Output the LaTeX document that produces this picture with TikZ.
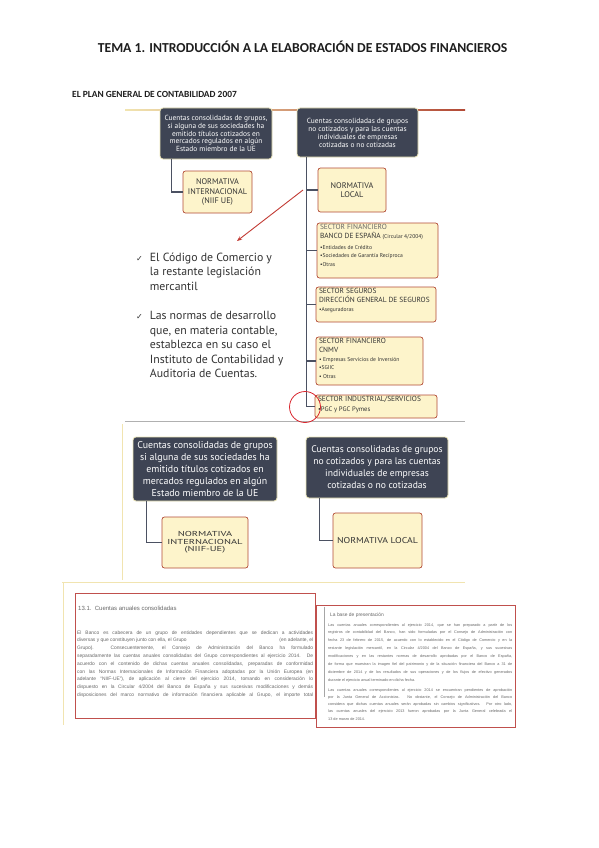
\documentclass[tikz,border=0pt]{standalone}
\usepackage{fontspec}
\usetikzlibrary{arrows.meta}
\setmainfont{Carlito}
\newfontfamily\gill{PT Sans}
\newfontfamily\dejavu{DejaVu Sans}
\newfontfamily\arial{Liberation Sans}
\definecolor{dkbox}{HTML}{3E4454}
\definecolor{dkglow}{HTML}{EDE6B8}
\definecolor{ylfill}{HTML}{FDF4CB}
\definecolor{ylborder}{HTML}{B34A36}
\definecolor{ytext}{HTML}{333333}
\definecolor{connc}{HTML}{4B5162}
\definecolor{arrowc}{HTML}{C23B34}
\definecolor{circc}{HTML}{D9262E}
\definecolor{titlec}{HTML}{1E1E1E}
\definecolor{bodyc}{HTML}{686868}
\definecolor{redbx}{HTML}{C0504D}
\definecolor{sepc}{HTML}{B0B0B0}
\definecolor{faintc}{HTML}{F1E4B0}
\newcommand\hdr{\gill\fontsize{7.4}{8.8}\selectfont}
\newcommand\itm{\gill\fontsize{5.6}{8.6}\selectfont}
\newcommand\JL[2]{\hbox to #1{#2}}
\begin{document}
\begin{tikzpicture}[x=1pt,y=-1pt,
  darkbox/.style={rounded corners=3pt, fill=dkbox, draw=dkglow, line width=0.8pt, text=white, align=center, inner sep=0pt},
  ybox/.style={rounded corners=2.5pt, fill=ylfill, draw=ylborder, line width=0.7pt, inner sep=0pt, align=center, text=ytext},
  sbox/.style={rounded corners=2.5pt, fill=ylfill, draw=ylborder, line width=0.7pt, inner xsep=3pt, inner ysep=1.5pt, text=ytext},
  conn/.style={draw=connc, line width=1.1pt},
  body/.style={inner sep=0pt, anchor=base west, text=bodyc}]
\useasboundingbox (0,0) rectangle (599,848);
\fill[white] (0,0) rectangle (599,848);

% titles
\node[font=\bfseries\fontsize{13.7}{16}\selectfont, text=titlec, inner sep=0pt] (title) at (302.5,47) {TEMA 1. INTRODUCCIÓN A LA ELABORACIÓN DE ESTADOS FINANCIEROS};
\node[font=\bfseries\fontsize{9.4}{11}\selectfont, text=titlec, inner sep=0pt, anchor=west] (sub) at (72,94) {EL PLAN GENERAL DE CONTABILIDAD 2007};

% frame lines
\shade[left color=faintc, right color=ylborder] (125,109.4) rectangle (465,110.6);
\draw[sepc, line width=0.7pt] (125,421) -- (465,421);
\draw[faintc, line width=0.7pt] (122,424) -- (122,580);
\draw[faintc, line width=0.7pt] (62,582) -- (465,582);
\draw[faintc, line width=0.7pt] (63,583) -- (63,725);

% upper diagram
\node[darkbox, minimum width=112, minimum height=51, font=\gill\fontsize{7.4}{7.6}\selectfont] (ul) at (216,133.5)
  {Cuentas consolidadas de grupos,\\si alguna de sus sociedades ha\\emitido títulos cotizados en\\mercados regulados en algún\\Estado miembro de la UE};
\node[darkbox, minimum width=121, minimum height=49, font=\gill\fontsize{7.4}{8}\selectfont] (ur) at (357.5,132.5)
  {Cuentas consolidadas de grupos\\no cotizados y para las cuentas\\individuales de empresas\\cotizadas o no cotizadas};
\node[ybox, minimum width=69, minimum height=42, font=\gill\fontsize{8.2}{9.3}\selectfont] (nint) at (217.5,192)
  {NORMATIVA\\INTERNACIONAL\\(NIIF UE)};
\node[ybox, minimum width=68, minimum height=44, font=\gill\fontsize{8.2}{9}\selectfont] (nloc) at (352,190)
  {NORMATIVA\\LOCAL};
\node[sbox] (sfin) at (377.5,250.5) {\parbox[c][52pt][t]{115pt}{%
  {\hdr\color{ytext!75}SECTOR FINANCIERO\par}
  {\hdr BANCO DE ESPAÑA {\itm(Circular 4/2004)}\par}\vspace{2pt}
  {\itm •Entidades de Crédito\par}
  {\itm •Sociedades de Garantía Recíproca\par}
  {\itm •Otras\par}}};
\node[sbox] (sseg) at (376,304.5) {\parbox[c][32pt][t]{114pt}{%
  {\hdr SECTOR SEGUROS\par}
  {\hdr DIRECCIÓN GENERAL DE SEGUROS\par}
  {\itm •Aseguradoras\par}}};
\node[sbox] (scnmv) at (369.5,361) {\parbox[c][45pt][t]{101pt}{%
  {\hdr SECTOR FINANCIERO\par}
  {\hdr CNMV\par}
  {\itm • Empresas Servicios de Inversión\par}
  {\itm •SGIIC\par}
  {\itm • Otras\par}}};
\node[sbox] (sind) at (376,406.5) {\parbox[c][20pt][t]{116pt}{%
  {\hdr SECTOR INDUSTRIAL/SERVICIOS\par}
  {\gill\fontsize{6.6}{9.6}\selectfont •PGC y PGC Pymes\par}}};

\draw[conn] ([xshift=12pt]ul.south west) |- (nint.west);
\draw[conn] ([xshift=10pt]ur.south west) |- (sind.west);
\foreach \n in {nloc,sfin,sseg,scnmv}{\draw[conn] ([xshift=10pt]ur.south west) |- (\n.west);}

\coordinate (aS) at (303,190);
\coordinate (aE) at (237,241);
\draw[arrowc, line width=0.9pt, -{Stealth[length=5pt,width=4pt]}] (aS) -- (aE);
\node[draw=circc, circle, minimum size=31pt, line width=0.8pt, inner sep=0pt] (ring) at (305,407) {};

\node[inner sep=0pt, anchor=base west, text=ytext] (bul) at (136,261) {%
  \fontsize{11.8}{14.6}\selectfont\gill
  \begin{tabular}[t]{@{}l@{\hspace{7pt}}l@{}}
  {\dejavu\fontsize{8}{8}\selectfont ✓} & El Código de Comercio y\\
  & la restante legislación\\
  & mercantil\\[14.6pt]
  {\dejavu\fontsize{8}{8}\selectfont ✓} & Las normas de desarrollo\\
  & que, en materia contable,\\
  & establezca en su caso el\\
  & Instituto de Contabilidad y\\
  & Auditoria de Cuentas.
  \end{tabular}};

% lower diagram
\node[darkbox, minimum width=144, minimum height=64, font=\gill\fontsize{9.9}{12.2}\selectfont] (ll) at (205,469)
  {Cuentas consolidadas de grupos\\si alguna de sus sociedades ha\\emitido títulos cotizados en\\mercados regulados en algún\\Estado miembro de la UE};
\node[darkbox, minimum width=142, minimum height=61, font=\gill\fontsize{9.6}{12}\selectfont] (lr) at (377,467.5)
  {Cuentas consolidadas de grupos\\no cotizados y para las cuentas\\individuales de empresas\\cotizadas o no cotizadas};
\node[ybox, minimum width=86, minimum height=51] (lnint) at (205,542.5)
  {\scalebox{1.45}[1]{\gill\fontsize{7.2}{7.6}\selectfont\begin{tabular}{@{}c@{}}NORMATIVA\\INTERNACIONAL\\(NIIF-UE)\end{tabular}}};
\node[ybox, minimum width=89, minimum height=55] (lnloc) at (377.5,540.5)
  {\scalebox{1.15}[1]{\gill\fontsize{8.5}{9}\selectfont NORMATIVA LOCAL}};
\draw[conn] ([xshift=14pt]ll.south west) |- (lnint.west);
\draw[conn] ([xshift=14pt]lr.south west) |- (lnloc.west);

% bottom text blocks
\node[draw=redbx, line width=0.9pt, fill=white, minimum width=240pt, minimum height=125pt, inner sep=0pt] (lblock) at (195,655.5) {};
\node[body, font=\arial\fontsize{6}{7}\selectfont] (lhead) at (78,610) {13.1.\ \ Cuentas anuales consolidadas};
\node[body] (lpara) at (77,634) {\vtop{\arial\fontsize{4.9}{7.8}\selectfont\lineskiplimit=-20pt
  \JL{236pt}{El Banco es cabecera de un grupo de entidades dependientes que se dedican a actividades}
  \JL{236pt}{diversas y que constituyen junto con ella, el Grupo\hfill(en adelante, el}
  \JL{236pt}{Grupo). Consecuentemente, el Consejo de Administración del Banco ha formulado}
  \JL{236pt}{separadamente las cuentas anuales consolidadas del Grupo correspondientes al ejercicio 2014. De}
  \JL{236pt}{acuerdo con el contenido de dichas cuentas anuales consolidadas, preparadas de conformidad}
  \JL{236pt}{con las Normas Internacionales de Información Financiera adoptadas por la Unión Europea (en}
  \JL{236pt}{adelante “NIIF-UE”), de aplicación al cierre del ejercicio 2014, tomando en consideración lo}
  \JL{236pt}{dispuesto en la Circular 4/2004 del Banco de España y sus sucesivas modificaciones y demás}
  \JL{236pt}{disposiciones del marco normativo de información financiera aplicable al Grupo, el importe total}}};

\node[draw=redbx, line width=0.9pt, fill=white, minimum width=199pt, minimum height=122pt, inner sep=0pt] (rblock) at (415.5,666) {};
\draw[gray!70, line width=0.8pt] ([xshift=9pt,yshift=-2pt]rblock.north west) coordinate (gtop) -- (gtop |- 0,697);
\node[body, font=\arial\fontsize{4.9}{5.5}\selectfont] (rhead) at (330,616) {La base de presentación};
\node[body] (rpara1) at (328,626) {\vtop{\arial\fontsize{3.8}{7.9}\selectfont\lineskiplimit=-20pt
  \JL{184pt}{Las cuentas anuales correspondientes al ejercicio 2014, que se han preparado a partir de los}
  \JL{184pt}{registros de contabilidad del Banco, han sido formuladas por el Consejo de Administración con}
  \JL{184pt}{fecha 23 de febrero de 2015, de acuerdo con lo establecido en el Código de Comercio y en la}
  \JL{184pt}{restante legislación mercantil, en la Circular 4/2004 del Banco de España, y sus sucesivas}
  \JL{184pt}{modificaciones y en las restantes normas de desarrollo aprobadas por el Banco de España,}
  \JL{184pt}{de forma que muestran la imagen fiel del patrimonio y de la situación financiera del Banco a 31 de}
  \JL{184pt}{diciembre de 2014 y de los resultados de sus operaciones y de los flujos de efectivo generados}
  \hbox{durante el ejercicio anual terminado en dicha fecha.}}};
\node[body] (rpara2) at (328,691) {\vtop{\arial\fontsize{3.8}{7.3}\selectfont\lineskiplimit=-20pt
  \JL{184pt}{Las cuentas anuales correspondientes al ejercicio 2014 se encuentran pendientes de aprobación}
  \JL{184pt}{por la Junta General de Accionistas. No obstante, el Consejo de Administración del Banco}
  \JL{184pt}{considera que dichas cuentas anuales serán aprobadas sin cambios significativos. Por otro lado,}
  \JL{184pt}{las cuentas anuales del ejercicio 2013 fueron aprobadas por la Junta General celebrada el}
  \hbox{13 de marzo de 2014.}}};
\end{tikzpicture}
\end{document}
